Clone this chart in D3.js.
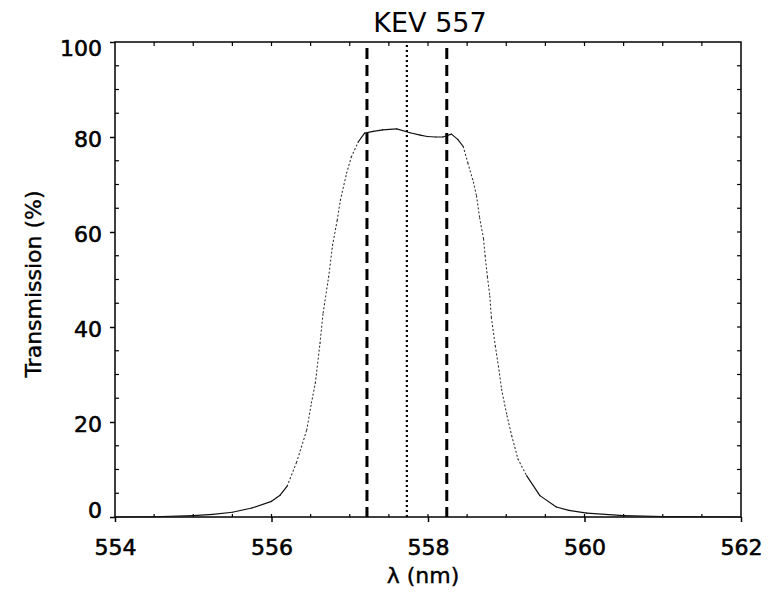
<!DOCTYPE html>
<html>
<head>
<meta charset="utf-8">
<script src="https://cdn.jsdelivr.net/npm/d3@7"></script>
<style>
  body { margin: 0; background: #fff; }
  svg { display: block; }
  text { font-family: "DejaVu Sans", Verdana, sans-serif; fill: #000; }
</style>
</head>
<body>
<svg id="chart" width="771" height="594"></svg>
<script>
// filter transmission curve
const wavelength = [554.0, 554.5, 555.0, 555.25, 555.5, 555.75, 556.0, 556.11, 556.2, 556.32,
  556.45, 556.51, 556.56, 556.62, 556.66, 556.73, 556.78, 556.84, 556.88, 556.96,
  557.02, 557.11, 557.19, 557.3, 557.42, 557.6, 557.77, 557.9, 557.99, 558.1,
  558.19, 558.3, 558.38, 558.45, 558.51, 558.58, 558.62, 558.66, 558.71, 558.73,
  558.76, 558.79, 558.81, 558.86, 558.9, 558.94, 559.01, 559.07, 559.15, 559.26,
  559.43, 559.64, 559.8, 560.03, 560.5, 561.0, 561.5, 562.0];
const transmission = [0, 0.05, 0.3, 0.55, 1.0, 1.9, 3.3, 4.6, 6.5, 11.5,
  18.3, 24, 28.2, 36.6, 43, 50.5, 57.2, 62.5, 66.7, 72.4,
  75.8, 79, 80.8, 81.2, 81.5, 81.7, 80.9, 80.4, 80.1, 80.0,
  80.0, 80.6, 79.5, 78, 74.5, 70.5, 67.6, 63, 58.5, 55,
  50.5, 46.5, 42, 36, 31.8, 26.9, 21.3, 17.1, 12.2, 8.7,
  4.5, 2.1, 1.4, 0.8, 0.3, 0.1, 0.05, 0];

const dashedLines = [557.22, 558.24];  // passband edges
const dottedLines = [557.73];          // centre
const xTicks = [554, 556, 558, 560, 562];
const yTicks = [0, 20, 40, 60, 80, 100];

const svg = d3.select('#chart');
const pLeft = 115, pRight = 741, pTop = 42, pBottom = 517;

const x = d3.scaleLinear().domain([554, 562]).range([pLeft, pRight]);
const y = d3.scaleLinear().domain([0, 100]).range([pBottom, pTop]);

// frame
svg.append('rect')
  .attr('x', pLeft).attr('y', pTop)
  .attr('width', pRight - pLeft).attr('height', pBottom - pTop)
  .attr('fill', 'none').attr('stroke', '#000').attr('stroke-width', 1.5);

// minor ticks (inward) on all four sides
const xMinor = d3.range(554.5, 562, 0.5);
const yMinor = d3.range(5, 100, 5).filter(v => v % 20 !== 0);
svg.append('g').selectAll('line').data(xMinor).enter().append('line')
  .attr('x1', d => x(d)).attr('x2', d => x(d))
  .attr('y1', pTop).attr('y2', pTop + 4)
  .attr('stroke', '#000').attr('stroke-width', 1.2);
svg.append('g').selectAll('line').data(xMinor).enter().append('line')
  .attr('x1', d => x(d)).attr('x2', d => x(d))
  .attr('y1', pBottom).attr('y2', pBottom - 3)
  .attr('stroke', '#000').attr('stroke-width', 1.2);
svg.append('g').selectAll('line').data(yMinor).enter().append('line')
  .attr('x1', pLeft).attr('x2', pLeft + 4)
  .attr('y1', d => y(d)).attr('y2', d => y(d))
  .attr('stroke', '#000').attr('stroke-width', 1.2);
svg.append('g').selectAll('line').data(d3.range(5, 100, 5)).enter().append('line')
  .attr('x1', pRight).attr('x2', pRight - 4)
  .attr('y1', d => y(d)).attr('y2', d => y(d))
  .attr('stroke', '#000').attr('stroke-width', 1.2);

// axes
const xAxis = svg.append('g')
  .attr('transform', `translate(0,${pBottom})`)
  .call(d3.axisBottom(x).tickValues(xTicks).tickFormat(d3.format('d')).tickSize(5).tickPadding(17));
const yAxis = svg.append('g')
  .attr('transform', `translate(${pLeft},0)`)
  .call(d3.axisLeft(y).tickValues(yTicks).tickSize(5).tickPadding(8));

[xAxis, yAxis].forEach(a => {
  a.select('.domain').remove();
  a.selectAll('.tick line').attr('stroke', '#000').attr('stroke-width', 1.5);
  a.selectAll('.tick text')
    .attr('font-size', 22)
    .attr('font-family', '"DejaVu Sans", Verdana, sans-serif')
    .attr('stroke', '#000').attr('stroke-width', 0.6);
});
// end labels sit a little inside the frame
yAxis.selectAll('.tick text')
  .attr('dy', d => d === 100 ? '0.62em' : d === 0 ? '0.02em' : '0.42em');

// reference lines
svg.append('g').selectAll('line').data(dashedLines).enter().append('line')
  .attr('x1', d => x(d)).attr('x2', d => x(d))
  .attr('y1', pTop + 6).attr('y2', pBottom)
  .attr('stroke', '#000').attr('stroke-width', 3)
  .attr('stroke-dasharray', '11,6');
svg.append('g').selectAll('line').data(dottedLines).enter().append('line')
  .attr('x1', d => x(d)).attr('x2', d => x(d))
  .attr('y1', pTop + 3).attr('y2', pBottom)
  .attr('stroke', '#000').attr('stroke-width', 2.2)
  .attr('stroke-dasharray', '2,3');

// curve: the steep flanks were sampled sparsely and look dotted in the scan
const pts = wavelength.map((w, i) => [w, transmission[i]]);
const segs = d3.pairs(pts).map(([a, b]) => ({ a, b, steep: Math.abs((b[1] - a[1]) / (b[0] - a[0])) > 25 }));
svg.append('g').selectAll('line').data(segs).enter().append('line')
  .attr('x1', d => x(d.a[0])).attr('y1', d => y(d.a[1]))
  .attr('x2', d => x(d.b[0])).attr('y2', d => y(d.b[1]))
  .attr('stroke', d => d.steep ? '#333' : '#111')
  .attr('stroke-width', d => d.steep ? 1.1 : 1.2)
  .attr('stroke-dasharray', d => d.steep ? '1.2,2.8' : null)
  .attr('stroke-linecap', 'round');

// titles
svg.append('text')
  .attr('x', 430).attr('y', 32)
  .attr('text-anchor', 'middle')
  .attr('font-size', 27)
  .text('KEV 557');

svg.append('text')
  .attr('x', 423).attr('y', 583)
  .attr('text-anchor', 'middle')
  .attr('font-size', 22)
  .attr('stroke', '#000').attr('stroke-width', 0.4)
  .text('λ (nm)');

svg.append('text')
  .attr('transform', 'translate(41,284) rotate(-90)')
  .attr('text-anchor', 'middle')
  .attr('font-size', 22)
  .attr('stroke', '#000').attr('stroke-width', 0.4)
  .text('Transmission (%)');
</script>
</body>
</html>
